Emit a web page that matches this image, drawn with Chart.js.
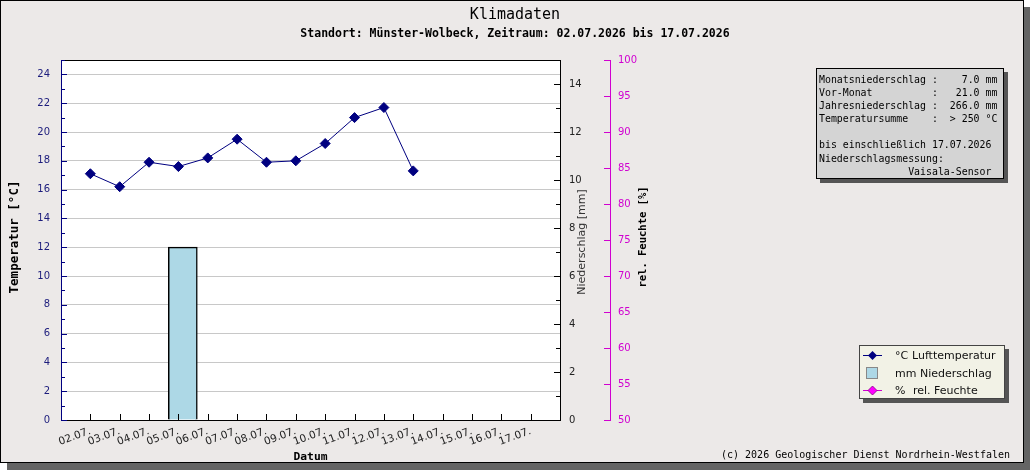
<!DOCTYPE html>
<html>
<head>
<meta charset="utf-8">
<script src="https://cdn.jsdelivr.net/npm/chart.js@4.4.0/dist/chart.umd.min.js"></script>
<style>
body{margin:0;width:1030px;height:470px;overflow:hidden;position:relative;background:#fff;font-family:"DejaVu Sans",sans-serif}
#frame{position:absolute;left:0;top:0;width:1024px;height:463px;box-sizing:border-box;border:1px solid #000;background:#ECE9E8;box-shadow:7px 7px 0 #646464}
#c{position:absolute;left:0;top:0}
#info{position:absolute;left:816px;top:68px;width:188px;height:111px;box-sizing:border-box;border:1px solid #000;background:#D4D4D4;box-shadow:4px 4px 0 #555;font:9.9px "DejaVu Sans Mono",monospace;line-height:13.1px;white-space:pre;padding:4px 0 0 2px;color:#000}
#legend{position:absolute;left:859px;top:345px;width:146px;height:54px;box-sizing:border-box;border:1px solid #444;background:#F2F2E6;box-shadow:4px 4px 0 #555;font:11px "DejaVu Sans",sans-serif;color:#111}
#legend span,#legend svg{position:absolute;line-height:13px;white-space:nowrap}
#footer{position:absolute;left:721px;top:449px;font:10px "DejaVu Sans Mono",monospace;line-height:12px;color:#000;white-space:pre}
</style>
</head>
<body>
<div id="frame"></div>
<canvas id="c" width="1030" height="470"></canvas>
<div id="info"></div>
<div id="legend">
  <svg style="left:3px;top:4px" width="20" height="11"><line x1="0" y1="5.5" x2="19" y2="5.5" stroke="#000080" stroke-width="1"/><polygon points="9.5,1 14,5.5 9.5,10 5,5.5" fill="#000080"/></svg>
  <span style="left:35px;top:3px">°C</span><span style="left:52px;top:3px">Lufttemperatur</span>
  <svg style="left:6px;top:21px" width="13" height="13"><rect x="0.5" y="0.5" width="11" height="11" fill="#ADD8E6" stroke="#888"/></svg>
  <span style="left:35px;top:21px">mm</span><span style="left:60px;top:21px">Niederschlag</span>
  <svg style="left:3px;top:39px" width="20" height="11"><line x1="0" y1="5.5" x2="19" y2="5.5" stroke="#D000D0" stroke-width="1"/><polygon points="9.5,1 14,5.5 9.5,10 5,5.5" fill="#FF00FF" stroke="#800080" stroke-width="0.8"/></svg>
  <span style="left:35px;top:38px">%</span><span style="left:53px;top:38px">rel. Feuchte</span>
</div>
<div id="footer">(c) 2026 Geologischer Dienst Nordrhein-Westfalen</div>
<script>
// DATEN
const dates = ['02.07.','03.07.','04.07.','05.07.','06.07.','07.07.','08.07.','09.07.','10.07.','11.07.','12.07.','13.07.','14.07.','15.07.','16.07.','17.07.'];
const temperature = [17.1,16.2,17.9,17.6,18.2,19.5,17.9,18.0,19.2,21.0,21.7,17.3];
const precipitation = [null,null,null,7.2,null,null,null,null,null,null,null,null,null,null,null,null];
const humidity = [];
const infoLines = [
  'Monatsniederschlag :    7.0 mm',
  'Vor-Monat          :   21.0 mm',
  'Jahresniederschlag :  266.0 mm',
  'Temperatursumme    :  > 250 °C',
  '',
  'bis einschließlich 17.07.2026',
  'Niederschlagsmessung:',
  '               Vaisala-Sensor'
];
const title = 'Klimadaten';
const subtitle = 'Standort: Münster-Wolbeck, Zeitraum: 02.07.2026 bis 17.07.2026';

document.getElementById('info').textContent = infoLines.join('\n');

const tickFont = {family:'DejaVu Sans', size:10};
const NAVY = '#000080', MAG = '#D000D0';

function seg(ctx,x1,y1,x2,y2){ctx.beginPath();ctx.moveTo(x1,y1);ctx.lineTo(x2,y2);ctx.stroke();}
function vtext(ctx,txt,x,y){ctx.save();ctx.translate(x,y);ctx.rotate(-Math.PI/2);ctx.fillText(txt,0,0);ctx.restore();}

// Rahmen, Ticks und Beschriftungen
const decor = {
  id:'decor',
  beforeDraw(chart){
    const {ctx, chartArea:a} = chart;
    ctx.save(); ctx.fillStyle='#fff';
    ctx.fillRect(a.left,a.top,a.right-a.left,a.bottom-a.top);
    ctx.restore();
  },
  afterDraw(chart){
    const {ctx, chartArea:a, scales:s} = chart;
    ctx.save();
    ctx.lineWidth=1;
    ctx.strokeStyle='#000';
    seg(ctx,a.left,a.top+0.5,a.right,a.top+0.5);
    // temp ticks
    ctx.strokeStyle=NAVY;
    for(let v=0;v<=25;v++){
      const y=Math.round(s.yT.getPixelForValue(v))+0.5;
      seg(ctx,a.left,y,a.left+(v%2?4:6),y);
    }
    // mm ticks
    ctx.strokeStyle='#000';
    for(let v=0;v<=15;v++){
      const y=Math.round(s.yP.getPixelForValue(v))+0.5;
      seg(ctx,a.right,y,a.right-(v%2?4:6),y);
    }
    // x ticks
    dates.forEach((d,i)=>{
      const x=Math.round(s.x.getPixelForValue(i))+0.5;
      seg(ctx,x,a.bottom,x,a.bottom-6);
    });
    // humidity ticks
    ctx.strokeStyle=MAG;
    const hx=s.yH.left;
    for(let v=50;v<=100;v+=5){
      const y=Math.round(s.yH.getPixelForValue(v))+0.5;
      seg(ctx,hx,y,hx-6,y);
    }
    // titles
    ctx.fillStyle='#000'; ctx.textAlign='center'; ctx.textBaseline='middle';
    ctx.font='15px "DejaVu Sans Mono"';
    ctx.fillText(title,515,15);
    ctx.font='bold 11.5px "DejaVu Sans Mono"';
    ctx.fillText(subtitle,515,34);
    ctx.font='bold 12.5px "DejaVu Sans Mono"';
    vtext(ctx,'Temperatur [°C]',15,237);
    ctx.font='bold 10.5px "DejaVu Sans Mono"';
    vtext(ctx,'rel. Feuchte [%]',643,237);
    ctx.font='bold 11.3px "DejaVu Sans Mono"';
    ctx.fillText('Datum',(a.left+a.right)/2,457);
    ctx.fillStyle='#333';
    ctx.font='11px "DejaVu Sans"';
    vtext(ctx,'Niederschlag [mm]',582,242);
    ctx.restore();
  }
};

const ctx = document.getElementById('c').getContext('2d');
new Chart(ctx, {
  type:'line',
  data:{
    datasets:[
      {type:'line', label:'Lufttemperatur', data:temperature.map((t,i)=>({x:i,y:t})),
       xAxisID:'x', yAxisID:'yT', borderColor:NAVY, borderWidth:1, tension:0,
       pointStyle:'rectRot', pointRadius:5, pointBackgroundColor:NAVY, pointBorderColor:NAVY, pointBorderWidth:1},
      {type:'bar', label:'Niederschlag', data:precipitation.map((v,i)=>({x:i,y:v})),
       xAxisID:'xBar', yAxisID:'yP', backgroundColor:'#ADD8E6', borderColor:'#000', borderWidth:1.5,
       barThickness:29, grouped:false},
      {type:'line', label:'rel. Feuchte', data:humidity.map((h,i)=>({x:i,y:h})),
       xAxisID:'x', yAxisID:'yH', borderColor:MAG, borderWidth:1,
       pointStyle:'rectRot', pointRadius:5, pointBackgroundColor:'#FF00FF', pointBorderColor:'#800080'}
    ]
  },
  options:{
    responsive:false, animation:false, devicePixelRatio:1,
    layout:{padding:{left:0, top:60, right:370, bottom:8}},
    plugins:{legend:{display:false}, tooltip:{enabled:false}},
    scales:{
      x:{type:'linear', position:'bottom', min:-1, max:16, offset:false,
         afterBuildTicks:sc=>{sc.ticks=dates.map((d,i)=>({value:i}));},
         ticks:{autoSkip:false, minRotation:20, maxRotation:20, padding:5, color:'#222',
                font:{family:'DejaVu Sans', size:10.5}, callback:v=>dates[v] ?? ''},
         grid:{display:false, drawTicks:false}, border:{color:'#000', width:1},
         afterFit:sc=>{sc.height=42;}},
      xBar:{type:'linear', display:false, min:-1.15, max:15.85, offset:false, grid:{offset:false}},
      yT:{type:'linear', position:'left', min:0, max:25,
          ticks:{stepSize:2, includeBounds:false, padding:11, color:'#1c1c7c', font:tickFont},
          grid:{color:c=>c.tick && c.tick.value===0 ? 'rgba(0,0,0,0)' : '#C8C8C8', drawTicks:false},
          border:{color:NAVY, width:1},
          afterFit:sc=>{sc.width=61;}},
      yP:{type:'linear', position:'right', weight:0, min:0, max:15,
          ticks:{stepSize:2, includeBounds:false, padding:9, color:'#222', font:tickFont},
          grid:{drawOnChartArea:false, drawTicks:false}, border:{color:'#000', width:1},
          afterFit:sc=>{sc.width=50;}},
      yH:{type:'linear', position:'right', weight:1, min:50, max:100,
          ticks:{stepSize:5, padding:8, color:MAG, font:tickFont},
          grid:{drawOnChartArea:false, drawTicks:false}, border:{color:MAG, width:1},
          afterFit:sc=>{sc.width=50;}}
    }
  },
  plugins:[decor]
});
</script>
</body>
</html>
